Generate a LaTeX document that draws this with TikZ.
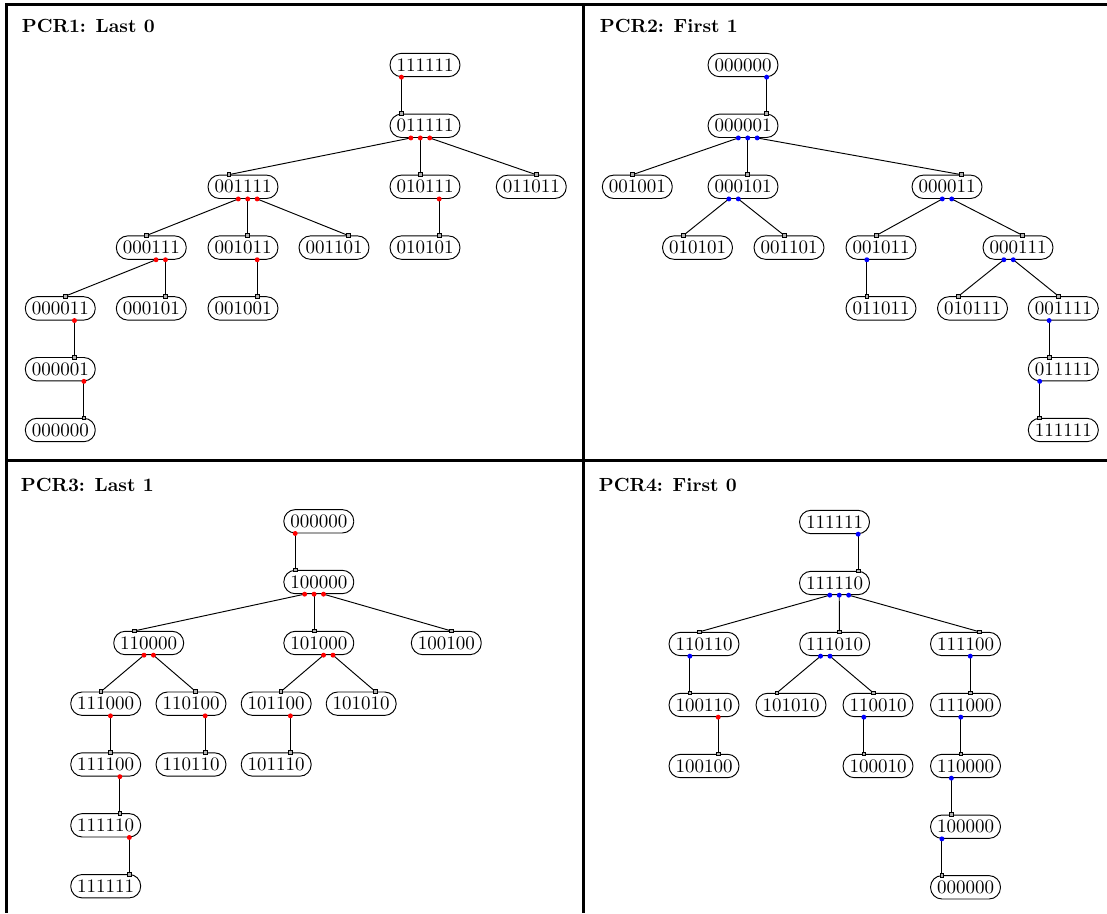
\documentclass[tikz,border=0pt]{standalone}
\usetikzlibrary{calc}
\tikzset{
  bits/.style={draw, rounded corners=6pt, inner xsep=0pt, inner ysep=0pt, minimum width=36.8pt, minimum height=12.3pt, line width=0.5pt},
  conn/.style={line width=0.5pt},
  sqmark/.style={draw, fill=gray!60, inner sep=0pt, minimum size=2pt, line width=0.4pt},
  framel/.style={line width=1.4pt},
  ptitle/.style={anchor=base west, font=\bfseries, inner sep=0pt},
}
\newcommand\pedge[4]{%
  \draw[conn] ($(#1.south)+({(#3-2.5)*9.45},0)$) coordinate (s) -- ($(#2.north)+({(#3-2.5)*9.45},0)$) coordinate (t);
  \node[sqmark] at (t) {};
  \fill[#4] (s) circle (1.3pt);
}
\begin{document}
\begin{tikzpicture}[x=0.5263pt,y=-0.5263pt]
\useasboundingbox (0,0) rectangle (1107,913);
% frame
\draw[line width=1.6pt] (1107,4.3) -- (6.5,4.3) -- (6.5,913);
\draw[framel] (583.5,4.3) -- (583.5,913);
\draw[framel] (6.5,460.7) -- (1107,460.7);
% titles
\node[ptitle] (t1) at (21.5,33) {PCR1: Last 0};
\node[ptitle] (t2) at (599.5,33) {PCR2: First 1};
\node[ptitle] (t3) at (20.5,491) {PCR3: Last 1};
\node[ptitle] (t4) at (598.5,491) {PCR4: First 0};
% ---------- panel 1
\node[bits] (a111111) at (425,65) {111111};
\node[bits] (a011111) at (425,125.8) {011111};
\node[bits] (a001111) at (243,186.8) {001111};
\node[bits] (a010111) at (425,186.8) {010111};
\node[bits] (a011011) at (531.3,186.8) {011011};
\node[bits] (a000111) at (151.3,247.6) {000111};
\node[bits] (a001011) at (243,247.6) {001011};
\node[bits] (a001101) at (334,247.6) {001101};
\node[bits] (a010101) at (425,247.6) {010101};
\node[bits] (a000011) at (60.3,308.4) {000011};
\node[bits] (a000101) at (151.3,308.4) {000101};
\node[bits] (a001001) at (243,308.4) {001001};
\node[bits] (a000001) at (60.3,369.2) {000001};
\node[bits] (a000000) at (60.3,430) {000000};
\pedge{a111111}{a011111}{0}{red}
\pedge{a011111}{a001111}{1}{red}
\pedge{a011111}{a010111}{2}{red}
\pedge{a011111}{a011011}{3}{red}
\pedge{a001111}{a000111}{2}{red}
\pedge{a001111}{a001011}{3}{red}
\pedge{a001111}{a001101}{4}{red}
\pedge{a010111}{a010101}{4}{red}
\pedge{a000111}{a000011}{3}{red}
\pedge{a000111}{a000101}{4}{red}
\pedge{a001011}{a001001}{4}{red}
\pedge{a000011}{a000001}{4}{red}
\pedge{a000001}{a000000}{5}{red}
% ---------- panel 2
\node[bits] (b000000) at (743,65) {000000};
\node[bits] (b000001) at (743,125.8) {000001};
\node[bits] (b001001) at (637.3,186.8) {001001};
\node[bits] (b000101) at (743,186.8) {000101};
\node[bits] (b000011) at (947,186.8) {000011};
\node[bits] (b010101) at (697.5,247.6) {010101};
\node[bits] (b001101) at (789,247.6) {001101};
\node[bits] (b001011) at (881,247.6) {001011};
\node[bits] (b000111) at (1018,247.6) {000111};
\node[bits] (b011011) at (881,308.4) {011011};
\node[bits] (b010111) at (972.5,308.4) {010111};
\node[bits] (b001111) at (1063.3,308.4) {001111};
\node[bits] (b011111) at (1063.3,369.2) {011111};
\node[bits] (b111111) at (1063.3,430) {111111};
\pedge{b000000}{b000001}{5}{blue}
\pedge{b000001}{b001001}{2}{blue}
\pedge{b000001}{b000101}{3}{blue}
\pedge{b000001}{b000011}{4}{blue}
\pedge{b000101}{b010101}{1}{blue}
\pedge{b000101}{b001101}{2}{blue}
\pedge{b000011}{b001011}{2}{blue}
\pedge{b000011}{b000111}{3}{blue}
\pedge{b001011}{b011011}{1}{blue}
\pedge{b000111}{b010111}{1}{blue}
\pedge{b000111}{b001111}{2}{blue}
\pedge{b001111}{b011111}{1}{blue}
\pedge{b011111}{b111111}{0}{blue}
% ---------- panel 3
\node[bits] (c000000) at (318.8,521.3) {000000};
\node[bits] (c100000) at (318.8,582) {100000};
\node[bits] (c110000) at (148.7,643) {110000};
\node[bits] (c101000) at (318.8,643) {101000};
\node[bits] (c100100) at (446.3,643) {100100};
\node[bits] (c111000) at (105.7,703.7) {111000};
\node[bits] (c110100) at (191,703.7) {110100};
\node[bits] (c101100) at (276.2,703.7) {101100};
\node[bits] (c101010) at (361.2,703.7) {101010};
\node[bits] (c111100) at (105.7,764.5) {111100};
\node[bits] (c110110) at (191,764.5) {110110};
\node[bits] (c101110) at (276.2,764.5) {101110};
\node[bits] (c111110) at (105.7,825.3) {111110};
\node[bits] (c111111) at (105.7,886.2) {111111};
\pedge{c000000}{c100000}{0}{red}
\pedge{c100000}{c110000}{1}{red}
\pedge{c100000}{c101000}{2}{red}
\pedge{c100000}{c100100}{3}{red}
\pedge{c110000}{c111000}{2}{red}
\pedge{c110000}{c110100}{3}{red}
\pedge{c101000}{c101100}{3}{red}
\pedge{c101000}{c101010}{4}{red}
\pedge{c111000}{c111100}{3}{red}
\pedge{c110100}{c110110}{4}{red}
\pedge{c101100}{c101110}{4}{red}
\pedge{c111100}{c111110}{4}{red}
\pedge{c111110}{c111111}{5}{red}
% ---------- panel 4
\node[bits] (d111111) at (834.5,522) {111111};
\node[bits] (d111110) at (834.5,583) {111110};
\node[bits] (d110110) at (704,644) {110110};
\node[bits] (d111010) at (834.7,644) {111010};
\node[bits] (d111100) at (965.5,644) {111100};
\node[bits] (d100110) at (704,705) {100110};
\node[bits] (d101010) at (791,705) {101010};
\node[bits] (d110010) at (878,705) {110010};
\node[bits] (d111000) at (965.5,705) {111000};
\node[bits] (d100100) at (704,766) {100100};
\node[bits] (d100010) at (878,766) {100010};
\node[bits] (d110000) at (965.5,766) {110000};
\node[bits] (d100000) at (965.5,826.7) {100000};
\node[bits] (d000000) at (965.5,887.3) {000000};
\pedge{d111111}{d111110}{5}{blue}
\pedge{d111110}{d110110}{2}{blue}
\pedge{d111110}{d111010}{3}{blue}
\pedge{d111110}{d111100}{4}{blue}
\pedge{d110110}{d100110}{1}{blue}
\pedge{d111010}{d101010}{1}{blue}
\pedge{d111010}{d110010}{2}{blue}
\pedge{d111100}{d111000}{3}{blue}
\pedge{d100110}{d100100}{4}{red}
\pedge{d110010}{d100010}{1}{blue}
\pedge{d111000}{d110000}{2}{blue}
\pedge{d110000}{d100000}{1}{blue}
\pedge{d100000}{d000000}{0}{blue}
\end{tikzpicture}
\end{document}
